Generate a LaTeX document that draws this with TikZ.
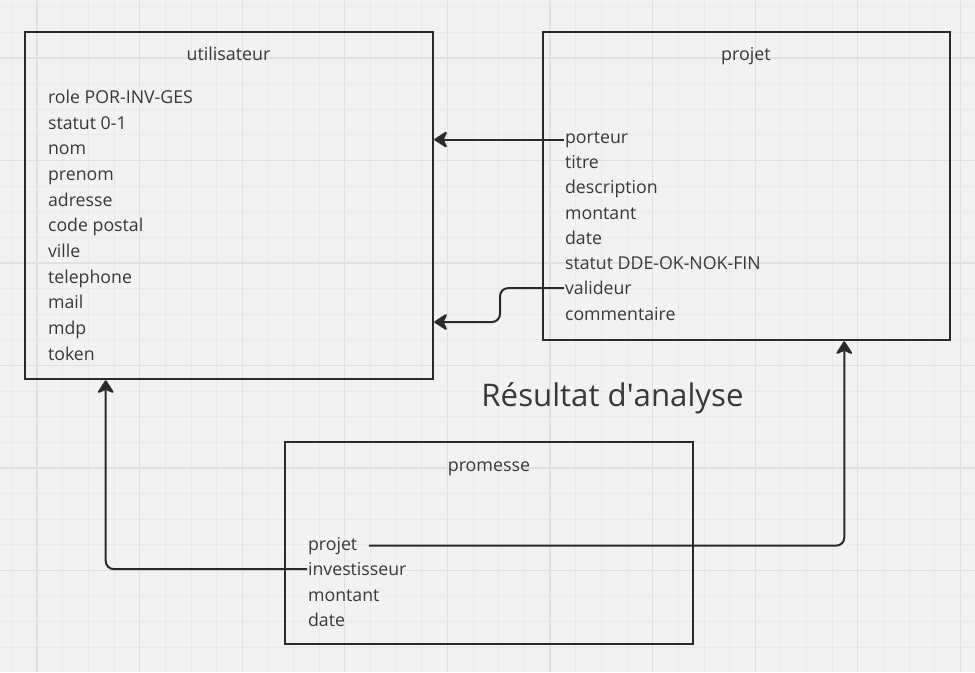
\documentclass[tikz,border=0pt]{standalone}
\usepackage{fontspec}
\setmainfont{Open Sans}
\usetikzlibrary{arrows.meta}
\definecolor{bgc}{HTML}{F2F2F2}
\definecolor{minorc}{HTML}{EAEAEA}
\definecolor{majorc}{HTML}{E0E0E0}
\definecolor{txtc}{HTML}{383838}
\definecolor{linec}{HTML}{2A2A2A}
\tikzset{
  entity/.style={draw=linec, line width=1.9pt, rectangle, inner sep=0pt},
  title/.style={anchor=base, inner sep=0pt, text=txtc, font=\fontsize{13.4pt}{15pt}\selectfont},
  field/.style={anchor=base west, inner xsep=0.6pt, inner ysep=0pt, text=txtc, font=\fontsize{13.3pt}{15pt}\selectfont},
  conn/.style={draw=linec, line width=1.5pt, rounded corners=6pt,
    -{Stealth[length=11pt, width=14pt, inset=3.2pt, round]}},
  minorline/.style={draw=minorc, line width=0.6pt},
  majorline/.style={draw=majorc, line width=0.9pt},
}
\begin{document}
\begin{tikzpicture}[x=0.75pt, y=-0.75pt]
\useasboundingbox (0,0) rectangle (975,672);
\fill[bgc] (0,0) rectangle (975,672);
% grid
\foreach \i in {0,...,38} {\draw[minorline] ({11.35+\i*25.65},0) -- ({11.35+\i*25.65},672);}
\foreach \i in {0,...,26} {\draw[minorline] (0,{6.75+\i*25.625}) -- (975,{6.75+\i*25.625});}
\foreach \i in {0,...,9} {\draw[majorline] ({37+\i*102.6},0) -- ({37+\i*102.6},672);}
\foreach \i in {0,...,5} {\draw[majorline] (0,{58+\i*102.5}) -- (975,{58+\i*102.5});}

% entities
\node[entity, minimum width=306pt, minimum height=260.25pt] (util) at (229,205.5) {};
\node[entity, minimum width=305.25pt, minimum height=231pt] (proj) at (746.5,186) {};
\node[entity, minimum width=306pt, minimum height=151.5pt] (prom) at (489,543) {};

% titles
\node[title] (utiltitle) at (228.5,60) {utilisateur};
\node[title] (projtitle) at (746,60) {projet};
\node[title] (promtitle) at (489,471.5) {promesse};

% utilisateur fields
\node[field] (urole) at (47,103.3) {role POR-INV-GES};
\node[field] (ustatut) at (47,129) {statut 0-1};
\node[field] (unom) at (47,154.6) {nom};
\node[field] (uprenom) at (47,180.3) {prenom};
\node[field] (uadresse) at (47,206) {adresse};
\node[field] (ucode) at (47,231.6) {code postal};
\node[field] (uville) at (47,257.3) {ville};
\node[field] (utel) at (47,283) {telephone};
\node[field] (umail) at (47,308.6) {mail};
\node[field] (umdp) at (47,334.3) {mdp};
\node[field] (utoken) at (47,360) {token};

% projet fields
\node[field] (porteur) at (564,143.3) {porteur};
\node[field] (ptitre) at (564,168.5) {titre};
\node[field] (pdesc) at (564,193.8) {description};
\node[field] (pmontant) at (564,219) {montant};
\node[field] (pdate) at (564,244.3) {date};
\node[field] (pstatut) at (564,269.5) {statut DDE-OK-NOK-FIN};
\node[field] (valideur) at (564,294.8) {valideur};
\node[field] (pcomment) at (564,320) {commentaire};

% promesse fields
\node[field] (pprojet) at (307,550) {projet};
\node[field] (investisseur) at (307,575.5) {investisseur};
\node[field] (prmontant) at (307,601) {montant};
\node[field] (prdate) at (307,626.7) {date};

% caption
\node[anchor=base, inner sep=0pt, text=txtc, font=\fontsize{23.4pt}{27pt}\selectfont] (caption) at (612.5,406.7) {Résultat d\textquotesingle analyse};

% connectors
\coordinate (vbend) at (500,322);
\draw[conn] (porteur.west) -- (porteur.west -| util.east);
\draw[conn] (valideur.west) -| (vbend) -- (vbend -| util.east);
\draw[conn] (investisseur.west) -| ([xshift=61.5pt]util.south west);
\draw[conn, shorten <=8pt] (pprojet.east) -| ([xshift=-80.25pt]proj.south east);
\end{tikzpicture}
\end{document}
